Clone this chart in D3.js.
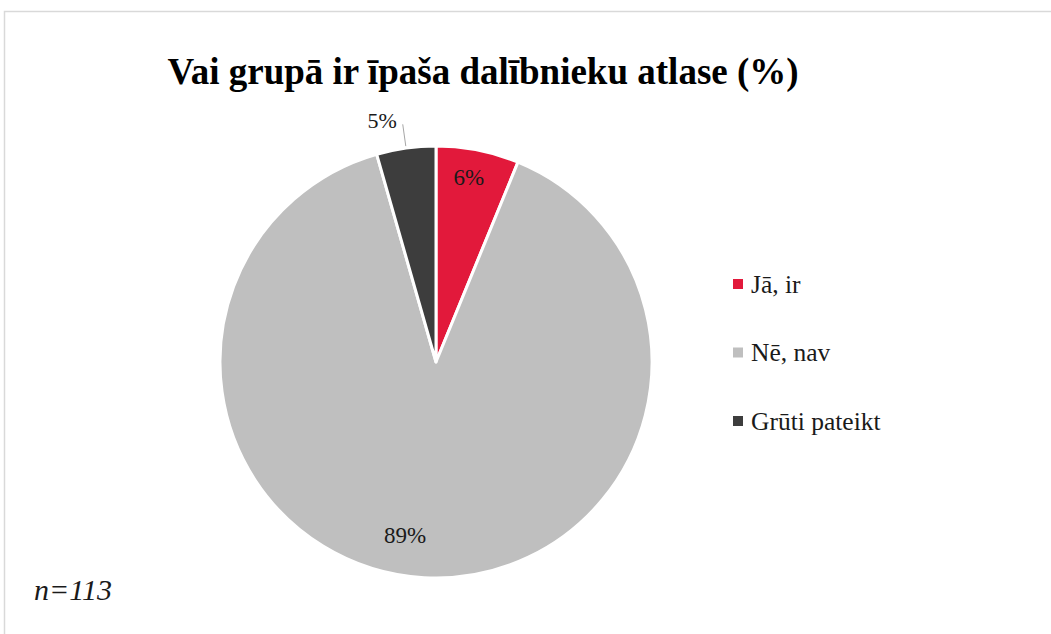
<!DOCTYPE html>
<html>
<head>
<meta charset="utf-8">
<script src="https://cdn.jsdelivr.net/npm/d3@7"></script>
<style>
  body { margin: 0; background: #fff; }
  text { font-family: "Liberation Serif", "Times New Roman", serif; }
</style>
</head>
<body>
<svg id="chart"></svg>
<script>
/* data */
var categories = ["Jā, ir", "Nē, nav", "Grūti pateikt"];
var counts = [7, 101, 5];              // n=113
var labels = ["6%", "89%", "5%"];
var colors = ["#e2193b", "#bfbfbf", "#3d3d3d"];
var title = "Vai grupā ir īpaša dalībnieku atlase (%)";
var note = "n=113";

var width = 1051, height = 634,
    cx = 436, cy = 362, radius = 216;

var svg = d3.select("#chart")
    .attr("width", width)
    .attr("height", height);

/* frame */
svg.append("rect")
    .attr("x", 4.5).attr("y", 11.5)
    .attr("width", width + 10).attr("height", height + 10)
    .attr("fill", "none")
    .attr("stroke", "#d9d9d9")
    .attr("stroke-width", 1.5);

/* title */
svg.append("text")
    .attr("x", 483).attr("y", 84)
    .attr("text-anchor", "middle")
    .style("font-size", "37px")
    .style("font-weight", "bold")
    .text(title);

/* pie */
var pie = d3.pie().sort(null).value(function(d){ return d; });
var arc = d3.arc().innerRadius(0).outerRadius(radius);
var labelArc = d3.arc().innerRadius(180).outerRadius(180);

var g = svg.append("g")
    .attr("transform", "translate(" + cx + "," + cy + ")");

var slices = pie(counts);

g.selectAll("path.slice")
    .data(slices)
  .enter().append("path")
    .attr("class", "slice")
    .attr("d", arc)
    .attr("fill", function(d, i){ return colors[i]; })
    .attr("stroke", "#fff")
    .attr("stroke-width", 3)
    .attr("stroke-linejoin", "round");

// inside labels (first two slices)
g.selectAll("text.inlabel")
    .data(slices.slice(0, 2))
  .enter().append("text")
    .attr("class", "inlabel")
    .attr("transform", function(d){ return "translate(" + labelArc.centroid(d) + ")"; })
    .attr("dx", function(d, i){ return i == 1 ? -21 : -2; })
    .attr("dy", function(d, i){ return i == 0 ? "0" : "0.05em"; })
    .attr("text-anchor", "middle")
    .style("font-size", "23px")
    .attr("fill", "#1a1a1a")
    .text(function(d, i){ return labels[i]; });

// outside label with leader line for the small slice
var last = slices[2];
var mid = (last.startAngle + last.endAngle) / 2;
var p1 = d3.arc().innerRadius(radius + 2).outerRadius(radius + 2).centroid({startAngle: mid, endAngle: mid});
var p2 = d3.arc().innerRadius(240).outerRadius(240).centroid({startAngle: mid, endAngle: mid});

g.append("line")
    .attr("x1", p1[0]).attr("y1", p1[1])
    .attr("x2", p2[0]).attr("y2", p2[1])
    .attr("stroke", "#a6a6a6")
    .attr("stroke-width", 1);

g.append("text")
    .attr("x", p2[0] - 6).attr("y", p2[1] + 4)
    .attr("text-anchor", "end")
    .style("font-size", "22px")
    .attr("fill", "#1a1a1a")
    .text(labels[2]);

/* legend */
var legendY = d3.scalePoint().domain(categories).range([284, 421]);

var lg = svg.append("g").attr("class", "legend");
var rows = lg.selectAll("g")
    .data(categories)
  .enter().append("g")
    .attr("transform", function(d){ return "translate(733," + legendY(d) + ")"; });

rows.append("rect")
    .attr("x", 0).attr("y", -5)
    .attr("width", 10).attr("height", 10)
    .attr("fill", function(d, i){ return colors[i]; });

rows.append("text")
    .attr("x", 18).attr("y", 0)
    .attr("dy", "0.35em")
    .style("font-size", "25.5px")
    .attr("fill", "#1a1a1a")
    .text(function(d){ return d; });

/* note */
svg.append("text")
    .attr("x", 34).attr("y", 600)
    .style("font-size", "30px")
    .style("font-style", "italic")
    .attr("fill", "#1a1a1a")
    .text(note);
</script>
</body>
</html>
